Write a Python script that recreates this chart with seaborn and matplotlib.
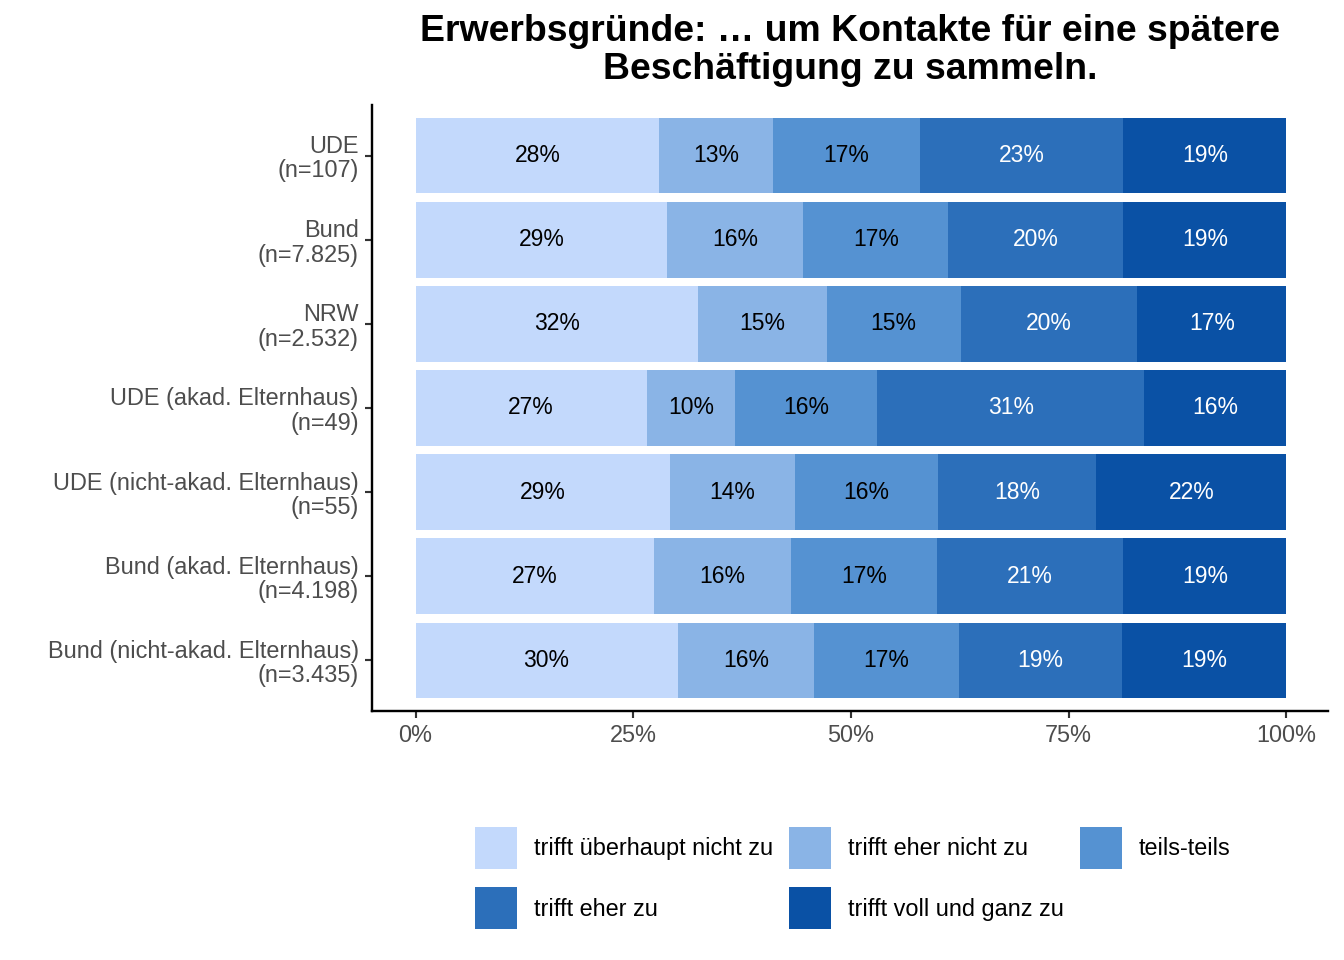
import numpy as np
import pandas as pd
import matplotlib
matplotlib.use("Agg")
import matplotlib.pyplot as plt
from matplotlib.patches import Patch
import seaborn as sns

# ── Data (shares in %) ──
groups = ["UDE\n(n=107)", "Bund\n(n=7.825)", "NRW\n(n=2.532)",
          "UDE (akad. Elternhaus)\n(n=49)", "UDE (nicht-akad. Elternhaus)\n(n=55)",
          "Bund (akad. Elternhaus)\n(n=4.198)", "Bund (nicht-akad. Elternhaus)\n(n=3.435)"]
answers = ["trifft überhaupt nicht zu", "trifft eher nicht zu", "teils-teils",
           "trifft eher zu", "trifft voll und ganz zu"]
ueberhaupt_nicht = [28.0, 28.9, 32.4, 26.5, 29.2, 27.4, 30.1]
eher_nicht       = [13.1, 15.6, 14.8, 10.2, 14.4, 15.7, 15.7]
teils            = [16.8, 16.7, 15.4, 16.3, 16.4, 16.8, 16.6]
eher_zu          = [23.4, 20.1, 20.3, 30.6, 18.2, 21.4, 18.7]
voll             = [18.7, 18.7, 17.1, 16.3, 21.8, 18.7, 18.9]

colors = ["#C3D9FC", "#8AB4E6", "#5592D2", "#2C6FBA", "#0A51A5"]
text_colors = ["black", "black", "black", "white", "white"]

sns.set_theme(style="white")
plt.rcParams["font.family"] = ["Liberation Sans", "DejaVu Sans"]

vals = np.array([ueberhaupt_nicht, eher_nicht, teils, eher_zu, voll]).T
vals = vals / vals.sum(axis=1, keepdims=True)
cum = vals.cumsum(axis=1)

fig = plt.figure(figsize=(7, 5), dpi=192)
ax = fig.add_axes([0.2768, 0.2594, 0.7113, 0.6312])

# stacked bars: draw cumulative totals, widest first
for k in range(len(answers) - 1, -1, -1):
    df = pd.DataFrame({"grp": groups, "val": cum[:, k]})
    sns.barplot(data=df, x="val", y="grp", orient="h", color=colors[k],
                saturation=1, width=0.9, linewidth=0, ax=ax)

# segment labels
for i in range(len(groups)):
    left = 0
    for k in range(len(answers)):
        w = vals[i, k]
        ax.text(left + w / 2, i, f"{w*100:.0f}%", ha="center", va="center",
                fontsize=8.6, color=text_colors[k])
        left += w

ax.set_xlim(-0.05, 1.048)
ax.set_ylim(6.6, -0.6)
ax.set_xticks([0, 0.25, 0.5, 0.75, 1.0])
ax.set_xticklabels(["0%", "25%", "50%", "75%", "100%"])
ax.set_xlabel("")
ax.set_ylabel("")
ax.tick_params(axis="both", length=2.75, width=0.8, color="#333333",
               labelcolor="#4D4D4D", labelsize=8.8, pad=2.2, bottom=True, left=True)
for lab in ax.get_yticklabels():
    lab.set_linespacing(1.08)
for s in ["top", "right"]:
    ax.spines[s].set_visible(False)
for s in ["left", "bottom"]:
    ax.spines[s].set_color("black")
    ax.spines[s].set_linewidth(0.9)

fig.text(0.6324, 0.9475, "Erwerbsgründe: … um Kontakte für eine spätere\nBeschäftigung zu sammeln.",
         ha="center", va="center", fontsize=14, fontweight="bold", color="black",
         linespacing=1.13)

# legend, row-major order
handles = [Patch(facecolor=c, edgecolor="none", label=a) for c, a in zip(colors, answers)]
order = [0, 3, 1, 4, 2]
fig.legend([handles[i] for i in order], [answers[i] for i in order],
           ncol=3, loc="center", bbox_to_anchor=(0.6345, 0.0854), frameon=False,
           fontsize=8.8, handlelength=1.8, handleheight=2.38, handletextpad=0.7,
           labelspacing=0.8, columnspacing=0.7, borderaxespad=0, labelcolor="black")

fig.savefig("out.png", dpi=192)
